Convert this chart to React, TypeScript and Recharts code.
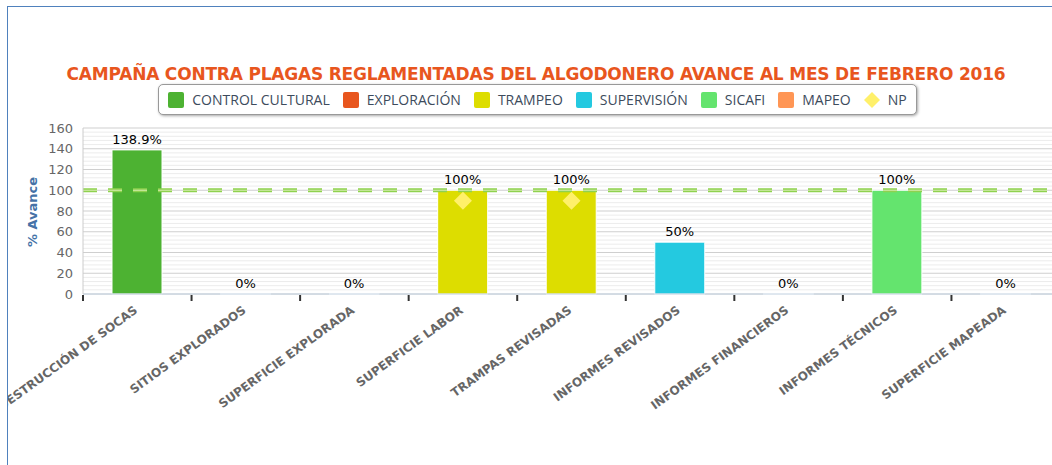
import { Bar, CartesianGrid, ComposedChart, LabelList, ReferenceLine, Scatter, XAxis, YAxis } from 'recharts'

const categories = [
  'DESTRUCCIÓN DE SOCAS',
  'SITIOS EXPLORADOS',
  'SUPERFICIE EXPLORADA',
  'SUPERFICIE LABOR',
  'TRAMPAS REVISADAS',
  'INFORMES REVISADOS',
  'INFORMES FINANCIEROS',
  'INFORMES TÉCNICOS',
  'SUPERFICIE MAPEADA',
]

const controlCultural = [138.9, null, null, null, null, null, null, null, null]
const exploracion = [null, 0, 0, null, null, null, null, null, null]
const trampeo = [null, null, null, 100, 100, null, null, null, null]
const supervision = [null, null, null, null, null, 50, 0, null, null]
const sicafi = [null, null, null, null, null, null, null, 100, null]
const mapeo = [null, null, null, null, null, null, null, null, 0]
const np = [null, null, null, 90, 90, null, null, null, null]

const yDomain = [0, 160]
const yTicks = [0, 20, 40, 60, 80, 100, 120, 140, 160]
const minorTicks = [
  4, 8, 12, 16, 24, 28, 32, 36, 44, 48, 52, 56, 64, 68, 72, 76, 84, 88, 92, 96,
  104, 108, 112, 116, 124, 128, 132, 136, 144, 148, 152, 156,
]
const goal = 100

const series = [
  { key: 'cc', name: 'CONTROL CULTURAL', color: '#4db232', values: controlCultural },
  { key: 'ex', name: 'EXPLORACIÓN', color: '#e8561e', values: exploracion },
  { key: 'tr', name: 'TRAMPEO', color: '#dddd00', values: trampeo },
  { key: 'su', name: 'SUPERVISIÓN', color: '#24c9e0', values: supervision },
  { key: 'si', name: 'SICAFI', color: '#64e46e', values: sicafi },
  { key: 'ma', name: 'MAPEO', color: '#ff9655', values: mapeo },
]
const npColor = '#fff06a'

const data = categories.map((name, i) => {
  const row: Record<string, string | number | null> = { name, np: np[i] }
  series.forEach(s => (row[s.key] = s.values[i]))
  return row
})

const FONT = '"DejaVu Sans", Verdana, sans-serif'

// minor grid rows: use the axis scale when we get it, otherwise map the domain onto the plot box
function minorRows({ yAxis, offset }: any) {
  if (yAxis && typeof yAxis.scale === 'function') return minorTicks.map(v => yAxis.scale(v))
  const [lo, hi] = yDomain
  return minorTicks.map(v => offset.top + offset.height * (1 - (v - lo) / (hi - lo)))
}

function CategoryTick(props: any) {
  const { x, y, payload, width } = props
  const half = payload.offset ?? width / categories.length / 2
  return (
    <g>
      <line x1={x - half} x2={x - half} y1={y + 1} y2={y + 7} stroke="#333" strokeWidth={2} />
      <text
        transform={`translate(${x + 1},${y + 18}) rotate(-36)`}
        textAnchor="end"
        fontFamily={FONT}
        fontSize={12}
        fontWeight="bold"
        fill="#666"
      >
        {payload.value}
      </text>
    </g>
  )
}

function PctLabel(props: any) {
  const { x, y, width, value } = props
  if (value == null) return null
  return (
    <text x={x + width / 2} y={y - 6} textAnchor="middle" fontFamily={FONT} fontSize={13} fill="#000">
      {`${value}%`}
    </text>
  )
}

function Diamond(props: any) {
  const { cx, cy } = props
  if (cx == null || cy == null) return null
  const r = 9
  return <path d={`M${cx},${cy - r}L${cx + r},${cy}L${cx},${cy + r}L${cx - r},${cy}Z`} fill={npColor} />
}

function Legend() {
  return (
    <div
      style={{
        position: 'absolute',
        left: 158,
        top: 84,
        width: 757,
        height: 29,
        border: '1px solid #999',
        borderRadius: 5,
        boxShadow: '1px 1px 3px rgba(0,0,0,0.35)',
        background: '#fff',
        display: 'flex',
        alignItems: 'center',
        justifyContent: 'center',
        gap: 13,
        fontFamily: '"Open Sans", sans-serif',
        fontSize: 14,
        color: '#3d4b5c',
        whiteSpace: 'nowrap',
      }}
    >
      {series.map(s => (
        <span key={s.key} style={{ display: 'flex', alignItems: 'center', gap: 8 }}>
          <span style={{ width: 16, height: 16, borderRadius: 2, background: s.color, flex: 'none' }} />
          {s.name}
        </span>
      ))}
      <span style={{ display: 'flex', alignItems: 'center', gap: 8 }}>
        <svg width={16} height={16}>
          <path d="M8,0L16,8L8,16L0,8Z" fill={npColor} />
        </svg>
        NP
      </span>
    </div>
  )
}

export default function App() {
  return (
    <div style={{ position: 'absolute', left: 0, top: 0, width: 1052, height: 465, background: '#fff' }}>
      <div
        style={{
          position: 'absolute',
          left: 7,
          top: 6,
          width: 1045,
          height: 459,
          overflow: 'hidden',
          borderLeft: '1.5px solid #4f81bd',
          borderTop: '1.5px solid #4f81bd',
        }}
      >
        <div style={{ position: 'absolute', left: -8, top: -7 }}>
          <div
            style={{
              position: 'absolute',
              left: 0,
              top: 64,
              width: 1072,
              textAlign: 'center',
              fontFamily: FONT,
              fontWeight: 'bold',
              fontSize: 17,
              letterSpacing: -0.2,
              color: '#e8561e',
              whiteSpace: 'nowrap',
            }}
          >
            CAMPAÑA CONTRA PLAGAS REGLAMENTADAS DEL ALGODONERO AVANCE AL MES DE FEBRERO 2016
          </div>
          <div
            style={{
              position: 'absolute',
              left: 32,
              top: 212,
              transform: 'translate(-50%, -50%) rotate(-90deg)',
              fontFamily: FONT,
              fontWeight: 'bold',
              fontSize: 13,
              color: '#4572a7',
              whiteSpace: 'nowrap',
            }}
          >
            % Avance
          </div>
          <ComposedChart
            width={1060}
            height={465}
            data={data}
            margin={{ top: 128, right: 0, bottom: 21, left: 33 }}
            barSize={50}
          >
            <CartesianGrid vertical={false} stroke="#ececec" horizontalCoordinatesGenerator={minorRows} />
            <CartesianGrid vertical={false} stroke="#cfcfcf" />
            <XAxis
              dataKey="name"
              tick={<CategoryTick />}
              tickLine={false}
              tickSize={0}
              tickMargin={0}
              axisLine={{ stroke: '#c0d0e0', strokeWidth: 1 }}
              interval={0}
              height={150}
            />
            <YAxis
              domain={yDomain}
              ticks={yTicks}
              interval={0}
              width={50}
              tickLine={false}
              axisLine={{ stroke: '#cccccc' }}
              tick={{ fontFamily: FONT, fontSize: 13, fill: '#666' }}
              tickMargin={4}
            />
            <ReferenceLine y={goal} stroke="#8fd14f" strokeWidth={4} strokeDasharray="14 11" />
            <ReferenceLine y={goal} stroke="#d6ecb0" strokeWidth={1} strokeDasharray="14 11" />
            {series.map(s => (
              <Bar
                key={s.key}
                dataKey={s.key}
                name={s.name}
                stackId="a"
                fill={s.color}
                stroke="#ffffff"
                strokeWidth={1}
                minPointSize={(v: any) => (v === 0 ? 0.1 : 0)}
                isAnimationActive={false}
              >
                <LabelList dataKey={s.key} content={<PctLabel />} />
              </Bar>
            ))}
            <Scatter dataKey="np" name="NP" shape={<Diamond />} isAnimationActive={false} />
          </ComposedChart>
          <Legend />
        </div>
      </div>
    </div>
  )
}
